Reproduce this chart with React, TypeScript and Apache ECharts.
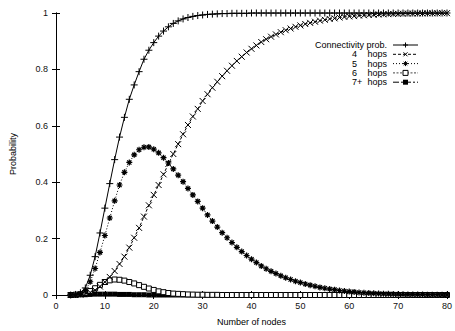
import { useEffect, useRef } from "react";
import * as echarts from "echarts";

// Number of nodes (x values of every series)
const nodes = [
  3, 4, 5, 6, 7, 8, 9, 10, 11, 12, 13, 14, 15, 16, 17, 18, 19, 20, 21, 22,
  23, 24, 25, 26, 27, 28, 29, 30, 31, 32, 33, 34, 35, 36, 37, 38, 39, 40, 41, 42,
  43, 44, 45, 46, 47, 48, 49, 50, 51, 52, 53, 54, 55, 56, 57, 58, 59, 60, 61, 62,
  63, 64, 65, 66, 67, 68, 69, 70, 71, 72, 73, 74, 75, 76, 77, 78, 79, 80,
];

const connectivity = [
  0, 0.002, 0.008, 0.025, 0.07, 0.136, 0.22, 0.308, 0.395, 0.48,
  0.56, 0.63, 0.694, 0.745, 0.792, 0.836, 0.868, 0.895, 0.918, 0.936,
  0.951, 0.963, 0.972, 0.979, 0.984, 0.988, 0.991, 0.993, 0.995, 0.996,
  0.997, 0.998, 0.998, 0.999, 0.999, 0.999, 0.999,
  1, 1, 1, 1, 1, 1, 1, 1, 1, 1, 1, 1, 1, 1, 1, 1, 1, 1, 1, 1, 1,
  1, 1, 1, 1, 1, 1, 1, 1, 1, 1, 1, 1, 1, 1, 1, 1, 1, 1, 1, 1, 1,
];

const hops4 = [
  0, 0, 0.001, 0.004, 0.009, 0.017, 0.03, 0.046, 0.064, 0.085,
  0.11, 0.136, 0.168, 0.203, 0.238, 0.278, 0.318, 0.355, 0.39, 0.428,
  0.465, 0.5, 0.535, 0.57, 0.603, 0.633, 0.66, 0.688, 0.712, 0.735,
  0.756, 0.776, 0.795, 0.813, 0.83, 0.845, 0.86, 0.873, 0.885, 0.897,
  0.907, 0.916, 0.924, 0.932, 0.939, 0.945, 0.951, 0.956, 0.961, 0.965,
  0.969, 0.973, 0.976, 0.979, 0.981, 0.984, 0.986, 0.988, 0.989, 0.991,
  0.992, 0.993, 0.994, 0.995, 0.9955, 0.996, 0.9965, 0.997, 0.9975, 0.998,
  0.998, 0.9985, 0.9985, 0.999, 0.999, 0.999, 0.9995, 0.9995,
];

const hops5 = [
  0, 0, 0.003, 0.015, 0.047, 0.094, 0.151, 0.211, 0.273, 0.334,
  0.39, 0.435, 0.47, 0.497, 0.515, 0.524, 0.525, 0.517, 0.504, 0.487,
  0.468, 0.447, 0.425, 0.402, 0.378, 0.355, 0.332, 0.308, 0.284, 0.262,
  0.241, 0.221, 0.203, 0.186, 0.169, 0.154, 0.14, 0.127, 0.115, 0.103,
  0.093, 0.084, 0.076, 0.068, 0.061, 0.055, 0.049, 0.044, 0.039, 0.035,
  0.031, 0.027, 0.024, 0.021, 0.019, 0.016, 0.014, 0.012, 0.011, 0.009,
  0.008, 0.007, 0.006, 0.005, 0.0045, 0.004, 0.0035, 0.003, 0.0025, 0.002,
  0.002, 0.0015, 0.0015, 0.001, 0.001, 0.001, 0.0005, 0.0005,
];

const hops6 = [
  0, 0.001, 0.003, 0.007, 0.014, 0.024, 0.036, 0.046, 0.052, 0.055,
  0.054, 0.051, 0.046, 0.041, 0.035, 0.029, 0.023, 0.018, 0.013, 0.01,
  0.007, 0.005, 0.004, 0.003, 0.002, 0.0015, 0.001, 0.001, 0.0005, 0.0005,
  0.0005,
  0, 0, 0, 0, 0, 0, 0, 0, 0, 0, 0, 0, 0, 0, 0, 0, 0, 0, 0, 0, 0, 0, 0, 0,
  0, 0, 0, 0, 0, 0, 0, 0, 0, 0, 0, 0, 0, 0, 0, 0, 0, 0, 0, 0, 0, 0, 0,
];

const hops7plus = [
  0, 0, 0.001, 0.001, 0.002, 0.003, 0.003, 0.003, 0.003, 0.003,
  0.002, 0.002, 0.002, 0.001, 0.001, 0.001,
  0, 0, 0, 0, 0, 0, 0, 0, 0, 0, 0, 0, 0, 0, 0, 0, 0, 0, 0, 0, 0, 0, 0, 0, 0, 0, 0,
  0, 0, 0, 0, 0, 0, 0, 0, 0, 0, 0, 0, 0, 0, 0, 0, 0, 0, 0, 0, 0, 0, 0, 0, 0, 0, 0,
  0, 0, 0, 0, 0, 0, 0, 0, 0, 0, 0, 0, 0, 0,
].slice(0, 78);

const legendLabels = ["Connectivity prob.", "4", "5", "6", "7+"];
const hopsWord = "hops";

const FONT = "'Liberation Sans', Arial, Helvetica, sans-serif";
const INK = "#000";

const PLUS = "path://M0,5L10,5M5,0L5,10";
const CROSS = "path://M1,1L9,9M9,1L1,9";
const STAR = "path://M0,5L10,5M5,0L5,10M1.5,1.5L8.5,8.5M8.5,1.5L1.5,8.5";

type Style = {
  symbol: string;
  size: number;
  dash: number[] | "solid";
  fill: string;
  border: number;
};

const styles: Style[] = [
  { symbol: PLUS, size: 7, dash: "solid", fill: INK, border: 1 },
  { symbol: CROSS, size: 6, dash: [3, 2], fill: INK, border: 1 },
  { symbol: STAR, size: 6, dash: [1, 2], fill: INK, border: 1.2 },
  { symbol: "rect", size: 5, dash: [2, 1.5], fill: "#fff", border: 1 },
  { symbol: "rect", size: 5, dash: [6, 2, 2, 2], fill: INK, border: 0 },
];

const seriesData = [connectivity, hops4, hops5, hops6, hops7plus];

function legendGraphics() {
  const textRight = 387;
  const numLeft = 352;
  const lineX0 = 393;
  const lineX1 = 418;
  const mx = (lineX0 + lineX1) / 2;
  const rowY = [45, 54.3, 63.6, 72.9, 82.2];
  const els: any[] = [];
  const textStyle = { fontFamily: FONT, fontSize: 9, fill: INK };
  legendLabels.forEach((lab, i) => {
    const y = rowY[i];
    if (i === 0) {
      els.push({
        type: "text",
        x: textRight,
        y,
        style: { ...textStyle, text: lab, align: "right", verticalAlign: "middle" },
      });
    } else {
      els.push({
        type: "text",
        x: numLeft,
        y,
        style: { ...textStyle, text: lab, align: "left", verticalAlign: "middle" },
      });
      els.push({
        type: "text",
        x: textRight,
        y,
        style: { ...textStyle, text: hopsWord, align: "right", verticalAlign: "middle" },
      });
    }
    const st = styles[i];
    els.push({
      type: "line",
      shape: { x1: lineX0, y1: y, x2: lineX1, y2: y },
      style: {
        stroke: i === 3 ? "#444" : INK,
        lineWidth: 1,
        lineDash: st.dash === "solid" ? null : st.dash,
      },
    });
    const h = 2.5;
    const lineStyle = { stroke: INK, lineWidth: 1 };
    if (i === 0 || i === 2) {
      els.push({ type: "line", shape: { x1: mx - h, y1: y, x2: mx + h, y2: y }, style: lineStyle });
      els.push({ type: "line", shape: { x1: mx, y1: y - h, x2: mx, y2: y + h }, style: lineStyle });
    }
    if (i === 1 || i === 2) {
      const d = i === 2 ? 1.8 : 2;
      els.push({ type: "line", shape: { x1: mx - d, y1: y - d, x2: mx + d, y2: y + d }, style: lineStyle });
      els.push({ type: "line", shape: { x1: mx - d, y1: y + d, x2: mx + d, y2: y - d }, style: lineStyle });
    }
    if (i === 3) {
      els.push({
        type: "rect",
        shape: { x: mx - 2.5, y: y - 2.5, width: 5, height: 5 },
        style: { fill: "#fff", stroke: INK, lineWidth: 1 },
      });
    }
    if (i === 4) {
      els.push({
        type: "rect",
        shape: { x: mx - 2.5, y: y - 2.5, width: 5, height: 5 },
        style: { fill: INK },
      });
    }
  });
  return els;
}

export default function App() {
  const ref = useRef<HTMLDivElement>(null);

  useEffect(() => {
    if (!ref.current) return;
    const chart = echarts.init(ref.current, undefined, { renderer: "svg" });

    const baseAxis = {
      axisLine: { show: true, lineStyle: { color: INK, width: 1 } },
      axisTick: { show: true, inside: true, length: 4, lineStyle: { color: INK } },
      splitLine: { show: false },
    };

    const series = seriesData
      .map((ys, i) => {
        const st = styles[i];
        return {
          type: "line",
          name: legendLabels[i],
          data: ys.map((y, k) => [nodes[k], y]),
          symbol: st.symbol,
          symbolSize: st.size,
          showAllSymbol: true,
          z: 10 - i,
          lineStyle: {
            color: i === 3 ? "#444" : INK,
            width: 1,
            type: st.dash,
          },
          itemStyle: {
            color: st.fill,
            borderColor: INK,
            borderWidth: st.border,
          },
          emphasis: { disabled: true },
        };
      })
      .reverse();

    chart.setOption({
      animation: false,
      backgroundColor: "#fff",
      textStyle: { fontFamily: FONT },
      grid: { left: 44, right: 6, top: 13, bottom: 31, containLabel: false },
      xAxis: [
        {
          ...baseAxis,
          type: "value",
          min: 0,
          max: 80,
          interval: 10,
          position: "bottom",
          name: "Number of nodes",
          nameLocation: "middle",
          nameGap: 22,
          nameTextStyle: { fontFamily: FONT, fontSize: 9, color: INK },
          axisLabel: { fontFamily: FONT, fontSize: 9, color: "#111", margin: 6 },
        },
        {
          ...baseAxis,
          type: "value",
          min: 0,
          max: 80,
          interval: 10,
          position: "top",
          axisLabel: { show: false },
        },
      ],
      yAxis: [
        {
          ...baseAxis,
          type: "value",
          min: 0,
          max: 1,
          interval: 0.2,
          position: "left",
          name: "Probability",
          nameLocation: "middle",
          nameGap: 39,
          nameTextStyle: { fontFamily: FONT, fontSize: 9, color: INK },
          axisLabel: { fontFamily: FONT, fontSize: 9, color: "#111", margin: 8 },
        },
        {
          ...baseAxis,
          type: "value",
          min: 0,
          max: 1,
          interval: 0.2,
          position: "right",
          axisLabel: { show: false },
        },
      ],
      series,
      graphic: legendGraphics(),
    });

    return () => chart.dispose();
  }, []);

  return (
    <div
      ref={ref}
      style={{ position: "fixed", left: 0, top: 0, width: 455, height: 331, background: "#fff" }}
    />
  );
}
